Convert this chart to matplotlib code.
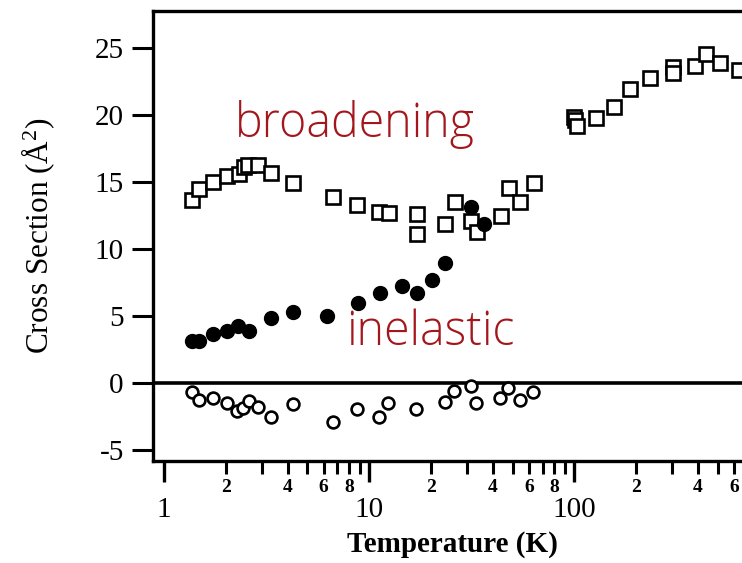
import numpy as np
import matplotlib
matplotlib.use("Agg")
import matplotlib.pyplot as plt
from matplotlib.ticker import FuncFormatter, FixedLocator

plt.rcParams['mathtext.fontset'] = 'custom'
plt.rcParams['mathtext.rm'] = 'Liberation Serif'
plt.rcParams['mathtext.it'] = 'Liberation Serif:italic'
plt.rcParams['mathtext.bf'] = 'Liberation Serif:bold'

# ---------------- data ----------------
broad_T = [1.365, 1.486, 1.728, 2.02, 2.33, 2.46, 2.58, 2.88, 3.31, 4.24, 6.70, 8.71,
           11.2, 12.5, 17.1, 17.1, 23.5, 26.3, 31.4, 33.5, 43.9, 47.8, 54.1, 63.3,
           99.2, 101, 103, 127.6, 155.5, 187.6, 232.9, 303, 303, 389, 440, 515, 633]
broad_S = [13.66, 14.45, 15.02, 15.45, 15.6, 16.14, 16.24, 16.27, 15.69, 14.95, 13.9, 13.28,
           12.74, 12.66, 12.59, 11.12, 11.87, 13.48, 12.11, 11.24, 12.49, 14.53, 13.53, 14.95,
           19.87, 19.6, 19.18, 19.8, 20.6, 21.94, 22.78, 23.6, 23.16, 23.66, 24.53, 23.9, 23.36]

inel_T = [1.365, 1.486, 1.728, 2.02, 2.30, 2.60, 3.31, 4.24, 6.26, 8.87, 11.3, 14.4,
          17.1, 20.2, 23.5, 31.3, 36.1]
inel_S = [3.16, 3.16, 3.66, 3.9, 4.25, 3.9, 4.83, 5.32, 5.0, 5.99, 6.74, 7.24,
          6.74, 7.69, 8.93, 13.16, 11.87]

elas_T = [1.365, 1.486, 1.728, 2.02, 2.28, 2.44, 2.59, 2.86, 3.31, 4.24, 6.70, 8.71,
          11.2, 12.3, 17.0, 23.5, 26.0, 31.3, 33.2, 43.6, 47.4, 54.1, 62.8]
elas_S = [-0.65, -1.27, -1.1, -1.52, -2.06, -1.89, -1.32, -1.77, -2.51, -1.57, -2.89, -1.97,
          -2.56, -1.52, -1.95, -1.39, -0.57, -0.22, -1.52, -1.09, -0.35, -1.27, -0.65]

y_ticks = [-5, 0, 5, 10, 15, 20, 25]
x_major = [1, 10, 100]
minor_subs = [2, 3, 4, 5, 6, 7, 8, 9]
minor_labeled = [2, 4, 6, 8]

# ---------------- figure ----------------
W, H = 742, 563
fig = plt.figure(figsize=(W/100, H/100), dpi=100)
ax = fig.add_axes([153/W, 1 - 461/H, 1 - 153/W + 0.002, (461 - 11)/H])

ax.set_xscale('log')
xmin, xmax = 10**((153 - 164)/205), 10**((743 - 164)/205)
ax.set_xlim(xmin, xmax)
ax.set_ylim(-5 - 11/13.4, 25 + 37/13.4)

ax.axhline(0, color='black', lw=2.6, zorder=1)

ax.plot(broad_T, broad_S, linestyle='none', marker='s', ms=9.5, mfc='white',
        mec='black', mew=1.9, zorder=3)
ax.plot(inel_T, inel_S, linestyle='none', marker='o', ms=10, mfc='black',
        mec='black', mew=1.0, zorder=3)
ax.plot(elas_T, elas_S, linestyle='none', marker='o', ms=8.5, mfc='white',
        mec='black', mew=1.9, zorder=3)

# spines
for s in ['left', 'bottom', 'top']:
    ax.spines[s].set_linewidth(2.4)
ax.spines['right'].set_visible(False)

# y ticks
ax.set_yticks(y_ticks)
ax.set_yticklabels([str(v) for v in y_ticks], family='Liberation Serif',
                   fontsize=21)
ax.tick_params(axis='y', direction='out', length=15, width=2.2, pad=6)

# x ticks
ax.xaxis.set_major_locator(FixedLocator(x_major))
ax.xaxis.set_major_formatter(FuncFormatter(lambda v, p: '%d' % round(v)))
minor_pos = [s * 10**e for e in range(0, 3) for s in minor_subs
             if xmin < s * 10**e < xmax]
ax.xaxis.set_minor_locator(FixedLocator(minor_pos))


def minor_fmt(v, p):
    e = np.floor(np.log10(v) + 1e-9)
    lead = int(round(v / 10**e))
    return str(lead) if lead in minor_labeled else ''


ax.xaxis.set_minor_formatter(FuncFormatter(minor_fmt))
ax.tick_params(axis='x', which='major', direction='out', length=15, width=2.4,
               pad=11, labelsize=21)
ax.tick_params(axis='x', which='minor', direction='out', length=9, width=2.2,
               pad=4, labelsize=14)
for lab in ax.get_xticklabels(which='major'):
    lab.set_family('Liberation Serif')
for lab in ax.get_xticklabels(which='minor'):
    lab.set_family('Liberation Serif')
    lab.set_fontweight('bold')
ax.tick_params(top=False, right=False)

ax.set_xlabel('Temperature (K)', family='Liberation Serif', fontweight='bold',
              fontsize=21, labelpad=5)
ax.xaxis.set_label_coords((452 - 153) / (W - 153), -0.155)
ax.set_ylabel('Cross Section (Å$^2$)', family='Liberation Serif', fontsize=22.5,
              labelpad=27)

red = '#a3161c'
ax.text(235, H - 137, 'broadening', transform=None, color=red,
        family='Open Sans', fontweight='light', fontsize=33.5, ha='left',
        va='baseline')
ax.text(346, H - 345, 'inelastic', transform=None, color=red,
        family='Open Sans', fontweight='light', fontsize=33.5, ha='left',
        va='baseline')

fig.savefig('out.png', dpi=100)
